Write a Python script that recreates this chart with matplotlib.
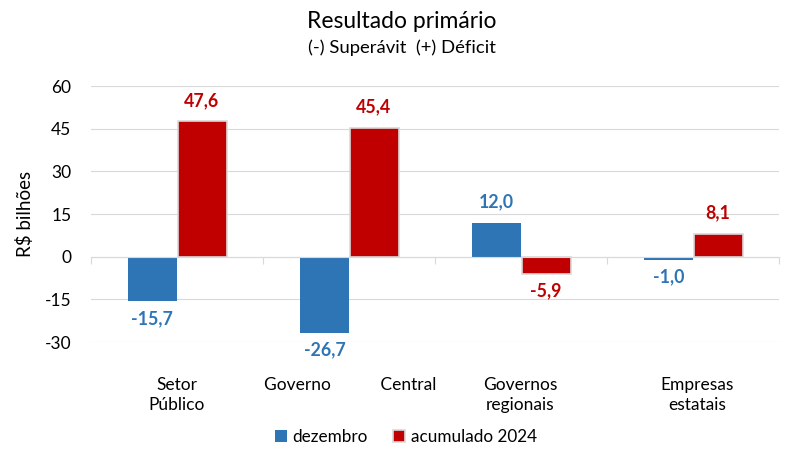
import numpy as np
import matplotlib
matplotlib.use("Agg")
import matplotlib.pyplot as plt
import matplotlib.transforms as mtransforms
from matplotlib.patches import Patch

plt.rcParams['font.family'] = ['Lato', 'DejaVu Sans']

categorias = ["Setor\nPúblico", "Governo           Central", "Governos\nregionais", "Empresas\nestatais"]
dezembro = [-15.7, -26.7, 12.0, -1.0]
acumulado = [47.6, 45.4, -5.9, 8.1]
yticks = [-30, -15, 0, 15, 30, 45, 60]

azul = '#2E75B6'
vermelho = '#C00000'

fig = plt.figure(figsize=(8.04, 4.68), dpi=100)
ax = fig.add_axes([0.113, 0.269, 0.856, 0.547])

x = np.arange(len(categorias))
w = 0.285
ax.bar(x - w / 2, dezembro, w, color=azul, label='dezembro', zorder=3)
ax.bar(x + w / 2 + 0.005, acumulado, w, color=vermelho, edgecolor='#D9D9D9',
       linewidth=1.2, label='acumulado 2024', zorder=3)

ax.set_xlim(-0.5, len(categorias) - 0.5)
ax.set_ylim(-30, 60)
ax.set_yticks(yticks)
ax.set_yticklabels([str(v) for v in yticks], fontsize=12.5)
ax.tick_params(axis='y', length=0, pad=14)
ax.grid(axis='y', color='#D9D9D9', linewidth=0.8, zorder=0)

for s in ['left', 'right', 'top']:
    ax.spines[s].set_visible(False)
ax.spines['bottom'].set_position(('data', 0))
ax.spines['bottom'].set_color('#D9D9D9')
ax.spines['bottom'].set_zorder(4)
ax.set_xticks(np.arange(len(categorias) + 1) - 0.5)
ax.set_xticklabels([])
ax.tick_params(axis='x', length=5, color='#D9D9D9', direction='out')

def rotula(xs, vals, cor):
    for xi, v in zip(xs, vals):
        txt = f"{v:.1f}".replace('.', ',')
        if v >= 0:
            ax.annotate(txt, (xi, v), xytext=(0, 9), textcoords='offset points',
                        ha='center', va='bottom', color=cor, fontsize=12.8, fontweight='bold')
        else:
            ax.annotate(txt, (xi, v), xytext=(0, -6), textcoords='offset points',
                        ha='center', va='top', color=cor, fontsize=12.8, fontweight='bold')

rotula(x - w / 2, dezembro, azul)
rotula(x + w / 2, acumulado, vermelho)

trans = mtransforms.blended_transform_factory(ax.transData, ax.transAxes)
dx = [0.0, 0.01, -0.005, 0.025]
for xi, c, d in zip(x, categorias, dx):
    ax.text(xi + d, -0.135, c, transform=trans, ha='center', va='top',
            fontsize=12.5, linespacing=1.35)

ax.set_ylabel('R$ bilhões', fontsize=13.5, labelpad=8)

fig.text(0.5, 0.955, 'Resultado primário', ha='center', va='center', fontsize=16.5)
fig.text(0.5, 0.897, '(-) Superávit  (+) Déficit', ha='center', va='center', fontsize=13.3)

handles = [Patch(facecolor=azul, label='dezembro'),
           Patch(facecolor=vermelho, edgecolor='#D9D9D9', linewidth=1.2, label='acumulado 2024')]
fig.legend(handles=handles, loc='center', bbox_to_anchor=(0.505, 0.067), ncol=2,
           frameon=False, fontsize=12.3, handlelength=0.7, handleheight=0.7,
           handletextpad=0.3, columnspacing=1.5)

fig.savefig('out.png', dpi=100)
